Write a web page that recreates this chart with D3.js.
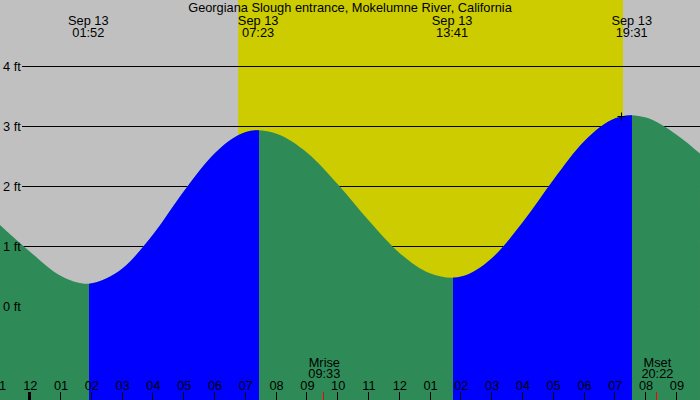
<!DOCTYPE html>
<html>
<head>
<meta charset="utf-8">
<script src="https://cdn.jsdelivr.net/npm/d3@7"></script>
<style>
  body { margin: 0; background: #fff; }
  svg { display: block; }
  text { font-family: "Liberation Sans", Arial, sans-serif; font-size: 12.8px; fill: #000; }
</style>
</head>
<body>
<div class="canvas"></div>
<script>
// tide heights (ft), hours since midnight Sep 13
const hours   = [-1.05, 0, 1, 1.867, 2, 3, 4, 5, 6, 7, 7.383, 8, 9, 10, 11, 12, 13, 13.683, 14, 15, 16, 17, 18, 19, 19.517, 20, 21, 21.75];
const heights = [1.38, 0.90, 0.50, 0.37, 0.38, 0.63, 1.20, 1.92, 2.55, 2.90, 2.93, 2.87, 2.55, 2.02, 1.42, 0.88, 0.54, 0.47, 0.49, 0.80, 1.40, 2.11, 2.75, 3.13, 3.18, 3.14, 2.85, 2.54];

// high / low tides
const extremaHours = [1.867, 7.383, 13.683, 19.517];
const extremaLabels = ['01:52', '07:23', '13:41', '19:31'];
const extremaKind = ['low', 'high', 'low', 'high'];
const extremaDate = 'Sep 13';

// sun and moon
const sunrise = 6.75, sunset = 19.25;
const moonHours = [9.55, 20.367];
const moonNames = ['Mrise', 'Mset'];
const moonLabels = ['09:33', '20:22'];

// axis
const feetTicks = [0, 1, 2, 3, 4];
const hourTicks = d3.range(-1, 22);

const markHour = 19.18, markHeight = 3.17;

const title = 'Georgiana Slough entrance, Mokelumne River, California';

const dims = { width: 700, height: 400 };

const svg = d3.select('.canvas')
  .append('svg')
  .attr('width', dims.width)
  .attr('height', dims.height);

const x = d3.scaleLinear().domain([0, 24]).range([30.3, 30.3 + 30.79 * 24]);
const y = d3.scaleLinear().domain([0, 4]).range([306, 66]);

// background: night grey, daylight yellow
svg.append('rect')
  .attr('width', dims.width).attr('height', dims.height)
  .attr('fill', '#c0c0c0');

svg.append('rect')
  .attr('x', x(sunrise)).attr('y', 0)
  .attr('width', x(sunset) - x(sunrise)).attr('height', dims.height)
  .attr('fill', '#cccc00');

// grid lines (under the water)
svg.selectAll('.grid')
  .data(feetTicks)
  .enter().append('line')
    .attr('class', 'grid')
    .attr('x1', 22).attr('x2', dims.width)
    .attr('y1', d => Math.round(y(d)) + 0.5)
    .attr('y2', d => Math.round(y(d)) + 0.5)
    .attr('stroke', '#000')
    .attr('stroke-width', 1);

// tide area
const points = hours.map((h, i) => [h, heights[i]]);
const area = d3.area()
  .x(d => x(d[0]))
  .y0(dims.height)
  .y1(d => y(d[1]))
  .curve(d3.curveMonotoneX);

// rising parts go blue: from each low to the next high
const rising = [];
extremaKind.forEach((k, i) => {
  if (k === 'low') rising.push([extremaHours[i], extremaHours[i + 1] ?? 30]);
});

const defs = svg.append('defs');
const clip = defs.append('clipPath').attr('id', 'rising');
clip.selectAll('rect')
  .data(rising)
  .enter().append('rect')
    .attr('x', d => Math.round(x(d[0])) + 1)
    .attr('y', 0)
    .attr('width', d => Math.round(x(d[1])) - Math.round(x(d[0])))
    .attr('height', dims.height);

svg.append('path')
  .datum(points)
  .attr('fill', '#2e8b57')
  .attr('d', area);

svg.append('path')
  .datum(points)
  .attr('fill', '#0000ff')
  .attr('clip-path', 'url(#rising)')
  .attr('d', area);

// feet labels
svg.selectAll('.ft')
  .data(feetTicks)
  .enter().append('text')
    .attr('class', 'ft')
    .attr('x', 3)
    .attr('y', d => y(d) + 4.5)
    .text(d => `${d} ft`);

// title
svg.append('text')
  .attr('x', dims.width / 2)
  .attr('y', 12)
  .attr('text-anchor', 'middle')
  .text(title);

// high/low labels
const ext = svg.selectAll('.ext')
  .data(extremaHours)
  .enter().append('g')
    .attr('class', 'ext')
    .attr('transform', d => `translate(${x(d) + 0.5}, 0)`);

ext.append('text')
  .attr('text-anchor', 'middle')
  .attr('y', 24.5)
  .text(extremaDate);

ext.append('text')
  .attr('text-anchor', 'middle')
  .attr('y', 36.5)
  .text((d, i) => extremaLabels[i]);

// hour ticks
const hourLabel = h => {
  const v = ((h % 12) + 12) % 12 || 12;
  return String(v).padStart(2, '0');
};

svg.selectAll('.htick')
  .data(hourTicks)
  .enter().append('line')
    .attr('class', 'htick')
    .attr('x1', d => Math.round(x(d)) - 0.5)
    .attr('x2', d => Math.round(x(d)) - 0.5)
    .attr('y1', 392).attr('y2', dims.height)
    .attr('stroke', '#000')
    .attr('stroke-width', d => (d % 24 === 0 ? 3 : 1));

svg.selectAll('.hlabel')
  .data(hourTicks)
  .enter().append('text')
    .attr('class', 'hlabel')
    .attr('x', d => x(d))
    .attr('y', 389.5)
    .attr('text-anchor', 'middle')
    .text(hourLabel);

// moon rise / set
svg.selectAll('.mtick')
  .data(moonHours)
  .enter().append('line')
    .attr('class', 'mtick')
    .attr('x1', d => Math.round(x(d)) - 0.5)
    .attr('x2', d => Math.round(x(d)) - 0.5)
    .attr('y1', 392).attr('y2', dims.height)
    .attr('stroke', '#ff0000')
    .attr('stroke-width', 1);

const moon = svg.selectAll('.moon')
  .data(moonHours)
  .enter().append('g')
    .attr('class', 'moon')
    .attr('transform', d => `translate(${x(d)}, 0)`);

moon.append('text')
  .attr('text-anchor', 'middle')
  .attr('y', 366.5)
  .text((d, i) => moonNames[i]);

moon.append('text')
  .attr('text-anchor', 'middle')
  .attr('y', 378)
  .text((d, i) => moonLabels[i]);

// small cross marker
const mx = Math.round(x(markHour)) + 0.5, my = Math.round(y(markHeight)) + 0.5;
svg.append('path')
  .attr('d', `M${mx - 4},${my}H${mx + 4}M${mx},${my - 4}V${my + 4}`)
  .attr('stroke', '#000')
  .attr('stroke-width', 1)
  .attr('fill', 'none');
</script>
</body>
</html>
